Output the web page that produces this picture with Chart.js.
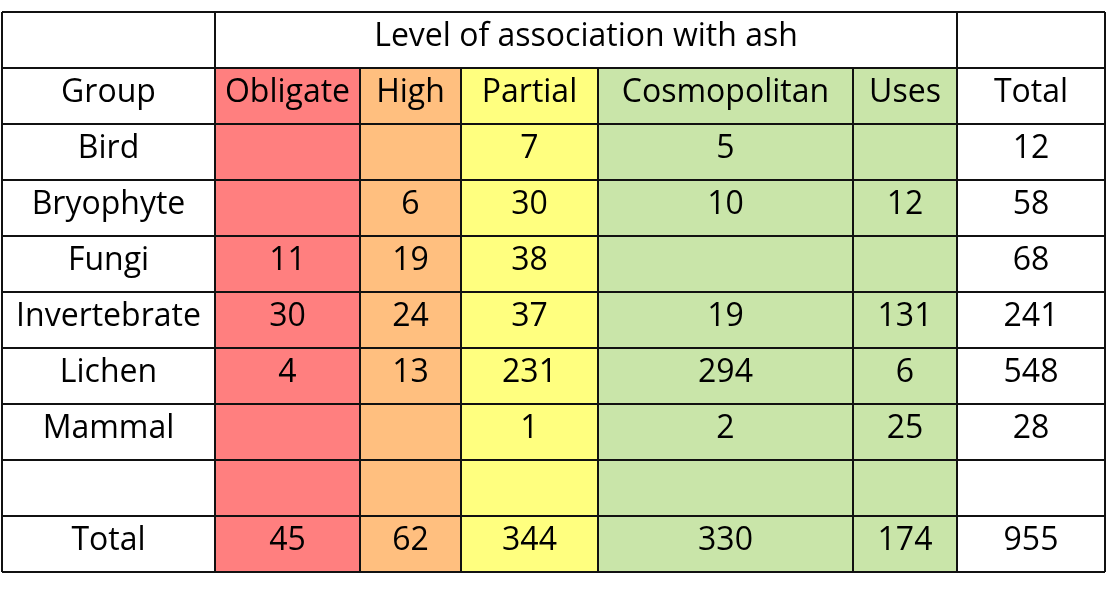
<!DOCTYPE html>
<html>
<head>
<script src="https://cdn.jsdelivr.net/npm/chart.js"></script>
<style>
  body { margin:0; background:#fff; }
  #wrap { position:absolute; left:0; top:0; width:1107px; height:589px; }
</style>
</head>
<body>
<div id="wrap"><canvas id="tbl"></canvas></div>
<script>
  // table content
  const header = 'Level of association with ash';
  const columns = ['Group', 'Obligate', 'High', 'Partial', 'Cosmopolitan', 'Uses', 'Total'];
  const colWidths = [213, 145, 101, 137, 255, 104, 148];
  const colColors = ['#ffffff', '#ff7f7f', '#ffbf7f', '#ffff7f', '#c9e5a9', '#c9e5a9', '#ffffff'];
  const groups = ['Bird', 'Bryophyte', 'Fungi', 'Invertebrate', 'Lichen', 'Mammal', '', 'Total'];
  const obligate = ['', '', 11, 30, 4, '', '', 45];
  const high = ['', 6, 19, 24, 13, '', '', 62];
  const partial = [7, 30, 38, 37, 231, 1, '', 344];
  const cosmopolitan = [5, 10, '', 19, 294, 2, '', 330];
  const uses = ['', 12, '', 131, 6, 25, '', 174];
  const totals = [12, 58, 68, 241, 548, 28, '', 955];
  const nRows = 2 + groups.length;

  const colEdges = [0];
  colWidths.forEach(w => colEdges.push(colEdges[colEdges.length - 1] + w));

  const tablePlugin = {
    id: 'tablePlugin',
    afterDraw(chart) {
      const ctx = chart.ctx, xs = chart.scales.x, ys = chart.scales.y;
      const X = v => xs.getPixelForValue(v), Y = v => ys.getPixelForValue(v);
      const cols = [groups, obligate, high, partial, cosmopolitan, uses, totals];
      ctx.save();
      // column fills (below header row)
      for (let c = 0; c < cols.length; c++) {
        ctx.fillStyle = colColors[c];
        ctx.fillRect(X(colEdges[c]), Y(1), X(colEdges[c + 1]) - X(colEdges[c]), Y(nRows) - Y(1));
      }
      // grid lines
      ctx.strokeStyle = '#111';
      ctx.lineWidth = 2;
      ctx.beginPath();
      for (let r = 0; r <= nRows; r++) {
        ctx.moveTo(X(0), Y(r)); ctx.lineTo(X(colEdges[colEdges.length - 1]), Y(r));
      }
      colEdges.forEach((e, i) => {
        const inner = i > 1 && i < colEdges.length - 2;
        ctx.moveTo(X(e), Y(inner ? 1 : 0)); ctx.lineTo(X(e), Y(nRows));
      });
      ctx.stroke();
      // text
      ctx.fillStyle = '#000';
      ctx.font = '32px "Open Sans", sans-serif';
      ctx.textAlign = 'center';
      ctx.textBaseline = 'middle';
      ctx.fillText(header, (X(colEdges[1]) + X(colEdges[6])) / 2, Y(0.45));
      columns.forEach((t, c) => {
        ctx.fillText(t, (X(colEdges[c]) + X(colEdges[c + 1])) / 2, Y(1.45));
      });
      cols.forEach((vals, c) => {
        vals.forEach((v, r) => {
          ctx.fillText(String(v), (X(colEdges[c]) + X(colEdges[c + 1])) / 2, Y(r + 2.45));
        });
      });
      ctx.restore();
    }
  };

  new Chart(document.getElementById('tbl'), {
    type: 'scatter',
    data: { datasets: [{ data: [], pointRadius: 0 }] },
    options: {
      responsive: true,
      maintainAspectRatio: false,
      animation: false,
      layout: { padding: { left: 2, right: 2, top: 12, bottom: 17 } },
      plugins: { legend: { display: false }, tooltip: { enabled: false } },
      scales: {
        x: { type: 'linear', min: 0, max: colEdges[colEdges.length - 1], display: false },
        y: { type: 'linear', min: 0, max: nRows, reverse: true, display: false }
      }
    },
    plugins: [tablePlugin]
  });
</script>
</body>
</html>
